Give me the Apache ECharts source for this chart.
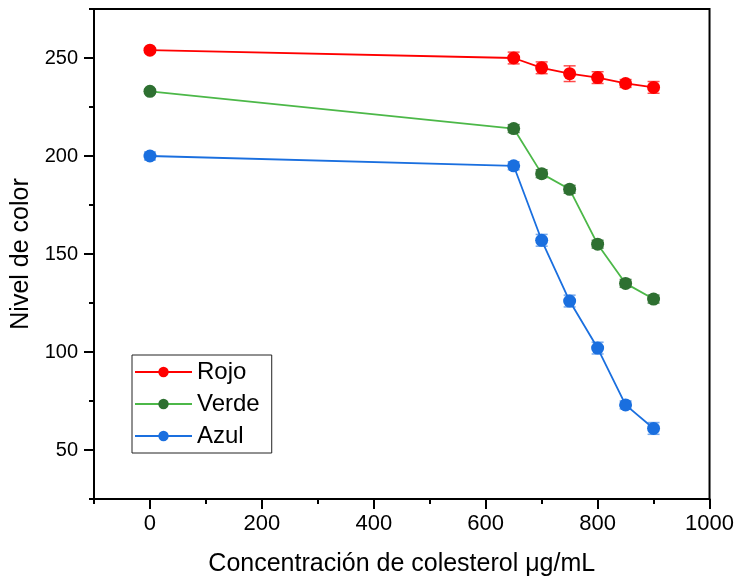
<!DOCTYPE html>
<html><head><meta charset="utf-8">
<script src="https://cdn.jsdelivr.net/npm/echarts@6/dist/echarts.min.js"></script>
<style>html,body{margin:0;padding:0;background:#fff}#c{width:737px;height:582px}</style>
</head><body><div id="c"></div>
<script>
const xValues = [0, 650, 700, 750, 800, 850, 900];
const rojo = [254, 250, 245, 242, 240, 237, 235];
const rojoErr = [1, 3, 3, 4, 3, 2, 3];
const verde = [233, 214, 191, 183, 155, 135, 127];
const verdeErr = [1, 2, 2, 2, 2, 2, 2];
const azul = [200, 195, 157, 126, 102, 73, 61];
const azulErr = [2, 2, 3, 3, 3, 2, 3];
const xMajor = [0, 200, 400, 600, 800, 1000];
const xMinor = [-100, 100, 300, 500, 700, 900];
const yMajor = [50, 100, 150, 200, 250];
const yMinor = [25, 75, 125, 175, 225, 275];

const font = 'Liberation Sans, Arial, sans-serif';
function pts(ys) { return xValues.map((x, i) => [x, ys[i]]); }
function errPts(ys, es) { return xValues.map((x, i) => [x, ys[i], es[i]]); }
function errSeries(name, ys, es, color) {
  return {
    type: 'custom', name: name, z: 1, silent: true,
    data: errPts(ys, es),
    renderItem: function (params, api) {
      const x = api.value(0), y = api.value(1), e = api.value(2);
      const top = api.coord([x, y + e]);
      const bot = api.coord([x, y - e]);
      const hw = 6;
      const st = { stroke: color, lineWidth: 1.5 };
      return { type: 'group', children: [
        { type: 'line', shape: { x1: top[0], y1: top[1], x2: bot[0], y2: bot[1] }, style: st },
        { type: 'line', shape: { x1: top[0] - hw, y1: top[1], x2: top[0] + hw, y2: top[1] }, style: st },
        { type: 'line', shape: { x1: bot[0] - hw, y1: bot[1], x2: bot[0] + hw, y2: bot[1] }, style: st }
      ]};
    }
  };
}
function lineSeries(name, ys, lineColor, markColor) {
  return {
    type: 'line', name: name, z: 3, data: pts(ys),
    symbol: 'circle', symbolSize: 13,
    lineStyle: { color: lineColor, width: 1.8 },
    itemStyle: { color: markColor },
    emphasis: { disabled: true }
  };
}

const chart = echarts.init(document.getElementById('c'));
chart.setOption({
  animation: false,
  backgroundColor: '#fff',
  grid: { left: 94, right: 23, top: 9, bottom: 80, show: true, borderColor: '#000', borderWidth: 2, backgroundColor: 'transparent' },
  legend: {
    data: ['Rojo', 'Verde', 'Azul'],
    orient: 'vertical', left: 132, top: 355,
    itemWidth: 57, itemHeight: 13, itemGap: 8,
    padding: [5, 12, 5, 2],
    borderColor: '#222', borderWidth: 1,
    textStyle: { fontFamily: font, fontSize: 24, color: '#000' }
  },
  xAxis: [
    {
      type: 'value', min: -100, max: 1000, position: 'bottom',
      name: 'Concentración de colesterol μg/mL', nameLocation: 'middle', nameGap: 53,
      nameTextStyle: { fontFamily: font, fontSize: 25, color: '#000' },
      axisLine: { show: true, onZero: false, lineStyle: { color: '#000', width: 2 } },
      axisTick: { show: true, length: 10, lineStyle: { color: '#000', width: 2 }, customValues: xMajor },
      axisLabel: { fontFamily: font, fontSize: 22, color: '#000', margin: 14, customValues: xMajor, formatter: v => String(v) },
      splitLine: { show: false }
    },
    {
      type: 'value', min: -100, max: 1000, position: 'bottom', offset: 0,
      axisLine: { show: false, onZero: false },
      axisTick: { show: true, length: 5, lineStyle: { color: '#000', width: 2 }, customValues: xMinor },
      axisLabel: { show: false },
      splitLine: { show: false }
    }
  ],
  yAxis: [
    {
      type: 'value', min: 25, max: 275, position: 'left',
      name: 'Nivel de color', nameLocation: 'middle', nameGap: 58,
      nameTextStyle: { fontFamily: font, fontSize: 25, color: '#000' },
      axisLine: { show: true, onZero: false, lineStyle: { color: '#000', width: 2 } },
      axisTick: { show: true, length: 10, lineStyle: { color: '#000', width: 2 }, customValues: yMajor },
      axisLabel: { fontFamily: font, fontSize: 20, color: '#000', margin: 16, customValues: yMajor },
      splitLine: { show: false }
    },
    {
      type: 'value', min: 25, max: 275, position: 'left', offset: 0,
      axisLine: { show: false, onZero: false },
      axisTick: { show: true, length: 5, lineStyle: { color: '#000', width: 2 }, customValues: yMinor },
      axisLabel: { show: false },
      splitLine: { show: false }
    }
  ],
  series: [
    errSeries('RojoErr', rojo, rojoErr, 'rgba(255,0,0,0.7)'),
    errSeries('VerdeErr', verde, verdeErr, 'rgba(46,112,49,0.8)'),
    errSeries('AzulErr', azul, azulErr, 'rgba(26,111,223,0.6)'),
    lineSeries('Rojo', rojo, '#ff0000', '#ff0000'),
    lineSeries('Verde', verde, '#4cb848', '#2e7031'),
    lineSeries('Azul', azul, '#1a6fdf', '#1a6fdf')
  ]
});
</script></body></html>
